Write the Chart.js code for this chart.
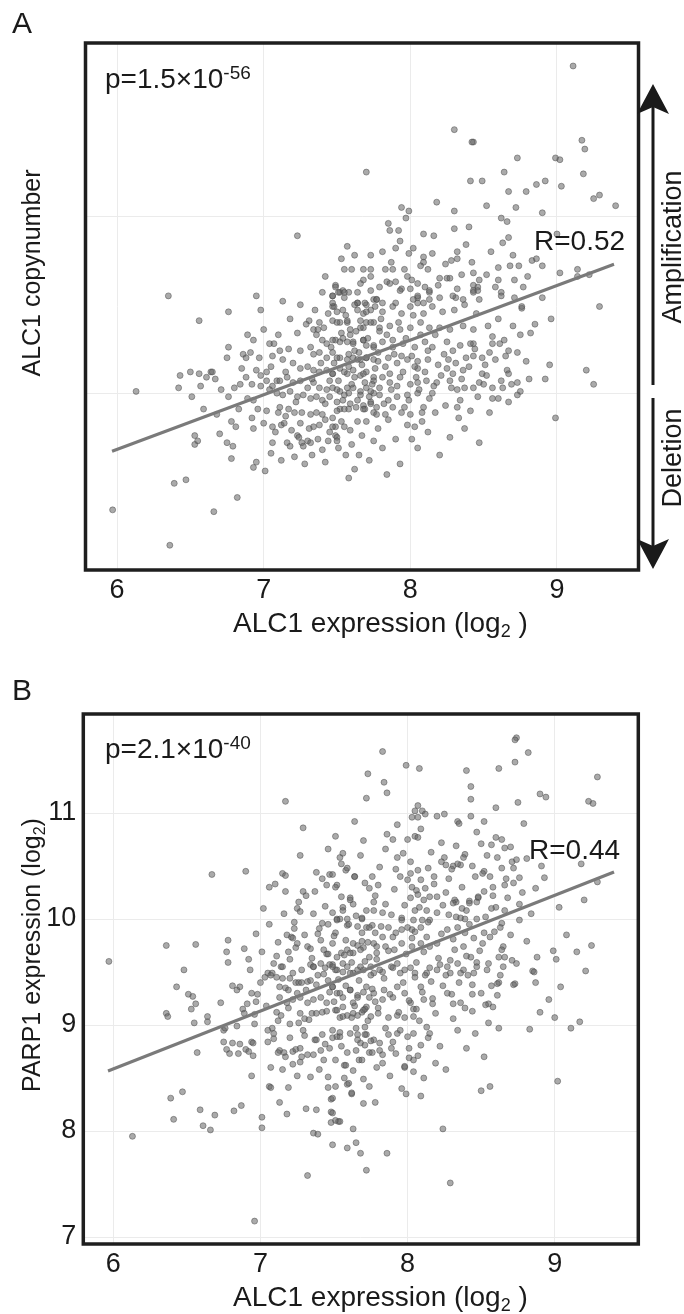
<!DOCTYPE html>
<html><head><meta charset="utf-8">
<script src="https://cdn.jsdelivr.net/npm/chart.js@4.4.0/dist/chart.umd.min.js"></script>
<style>
html,body{margin:0;padding:0;background:#fff;width:684px;height:1314px;overflow:hidden;}
canvas{position:absolute;left:0;}
#cA{top:0px} #cB{top:657px}
</style></head><body>
<canvas id="cA" width="684" height="657"></canvas>
<canvas id="cB" width="684" height="657"></canvas>
<script>
// ---------------- DATA ----------------
const xTicks = [6, 7, 8, 9];
const yTicksA = [-1, 0, 1];
const yTicksB = [7, 8, 9, 10, 11];
const panelA_label = "A";
const panelB_label = "B";
const pValueA = ["p=1.5×10", "-56"];
const pValueB = ["p=2.1×10", "-40"];
const rValueA = "R=0.52";
const rValueB = "R=0.44";
// regression fit lines (endpoints)
const fitA_x = [5.966, 9.389];
const fitA_y = [-0.328, 0.729];
const fitB_x = [5.964, 9.403];
const fitB_y = [8.566, 10.443];
// panel A: [ALC1 expression (log2), ALC1 copynumber]
const panelA_points = [
[7.70,1.25],[7.23,0.89],[7.57,0.83],[7.53,0.76],[7.73,0.78],[7.55,0.70],[7.60,0.70],[7.68,0.70],[7.73,0.70],[7.42,0.66],[7.68,0.64],[7.73,0.66],[7.49,0.61],[7.52,0.57],[7.58,0.57],[7.64,0.57],[6.35,0.55],[6.95,0.55],[7.13,0.52],[7.25,0.50],[7.47,0.55],[7.48,0.49],[7.55,0.54],[7.64,0.51],[7.70,0.50],[7.75,0.53],
[9.11,1.85],[8.30,1.49],[8.43,1.42],[8.42,1.42],[9.17,1.43],[9.19,1.38],[8.73,1.33],[8.99,1.33],[9.02,1.32],[8.64,1.25],[8.41,1.20],[8.49,1.20],[9.18,1.24],[8.67,1.14],[8.79,1.14],[8.86,1.18],[8.92,1.20],[9.03,1.17],[8.18,1.08],[7.94,1.05],[7.99,1.03],[7.97,0.99],[8.30,1.03],[8.52,1.06],[8.72,1.05],[8.90,1.02],[9.25,1.10],[9.29,1.12],[9.40,1.06],[7.85,0.96],[7.86,0.92],[7.92,0.92],[8.09,0.90],[8.16,0.89],[8.30,0.93],[8.40,0.94],[8.62,0.99],[8.66,0.97],[9.00,0.90],[8.63,0.85],[7.90,0.82],[7.99,0.79],[8.09,0.77],[8.09,0.74],[8.07,0.72],[8.32,0.80],[8.32,0.76],[8.28,0.75],[8.42,0.74],[8.43,0.68],[8.70,0.78],[8.68,0.72],[8.74,0.72],[8.83,0.75],[8.86,0.76],[8.90,0.72],[8.60,0.71],[8.60,0.64],[8.80,0.66],[8.71,0.64],[9.02,0.68],[9.14,0.70],[9.14,0.66],[9.22,0.67],[9.29,0.49],[8.90,0.54],[8.76,0.48],[8.71,0.54],[8.62,0.57],[8.62,0.55],[8.47,0.64],[8.46,0.60],[8.43,0.61],[8.43,0.58],[8.46,0.58],[8.47,0.53],
[7.83,0.70],[7.88,0.70],[7.84,0.63],[7.90,0.63],[7.94,0.59],[7.98,0.66],[7.54,0.58],[7.69,0.51],[7.77,0.53],[7.81,0.51],[7.90,0.51],[8.01,0.64],[8.05,0.62],[8.10,0.60],[8.13,0.57],[8.05,0.54],[8.09,0.51],[8.13,0.53],[8.02,0.53],[8.20,0.65],[8.25,0.65],[8.27,0.65],[8.32,0.59],[8.31,0.54],
[6.76,0.46],[6.98,0.47],[6.56,0.41],[6.89,0.33],[6.76,0.26],[6.75,0.20],[6.86,0.22],[6.88,0.20],[6.91,0.23],[7.04,0.28],[7.07,0.28],[7.11,0.24],[7.13,0.19],[7.17,0.25],[7.23,0.34],[6.64,0.12],[6.65,0.12],[6.61,0.09],[6.67,0.08],[6.56,0.11],[6.50,0.12],[6.43,0.10],[6.42,0.03],[6.57,0.04],[6.51,-0.02],[6.13,0.01],[6.85,0.14],[6.95,0.13],[6.98,0.10],[7.02,0.12],[7.05,0.15],[6.80,0.03],[6.84,0.05],[6.92,0.05],[6.98,0.04],[7.02,0.07],[7.06,0.04],[7.09,0.07],[6.76,-0.02],[6.89,-0.03],[6.93,-0.04],[6.59,-0.09],[6.96,-0.09],[7.02,-0.10],[7.10,-0.11],[6.78,-0.16],[6.81,-0.19],[6.92,-0.14],[6.93,-0.20],[6.70,-0.23],[6.75,-0.28],[6.79,-0.30],[6.53,-0.24],[6.55,-0.27],[6.53,-0.29],[6.78,-0.37],[6.95,-0.39],[6.93,-0.42],[7.01,-0.44],[7.06,-0.28],[7.06,-0.19],[7.12,-0.18],[7.14,-0.17],[7.16,-0.28],[7.18,-0.30],[7.23,-0.24],[7.24,-0.25],[7.26,-0.28],[7.27,-0.30],[7.30,-0.27],[7.32,-0.28],[7.40,-0.32],[7.44,-0.27],[7.51,-0.31],[7.60,-0.29],[7.65,-0.35],[7.75,-0.27],[6.39,-0.51],[6.47,-0.49],[6.82,-0.59],[5.97,-0.66],[6.66,-0.67],[6.36,-0.86],
[7.34,0.36],[7.37,0.36],[7.38,0.40],[7.47,0.41],[7.50,0.46],[7.47,0.55],[7.51,0.57],[7.47,0.49],[7.52,0.40],[7.57,0.40],[7.59,0.36],[7.66,0.41],[7.68,0.37],[7.70,0.40],[7.75,0.40],[7.64,0.47],[7.64,0.51],[7.68,0.45],[7.73,0.47],[7.77,0.53],
[7.40,0.30],[7.43,0.28],[7.49,0.30],[7.52,0.29],[7.57,0.29],[7.61,0.29],[7.68,0.30],[7.70,0.27],[7.75,0.26],[7.59,0.33],
[7.25,0.24],[7.32,0.26],[7.34,0.22],[7.38,0.23],[7.43,0.20],[7.47,0.23],[7.52,0.20],[7.57,0.19],[7.61,0.20],[7.66,0.19],[7.70,0.20],[7.75,0.19],
[7.20,0.17],[7.25,0.14],[7.30,0.15],[7.34,0.13],[7.38,0.12],[7.43,0.13],[7.47,0.11],[7.52,0.14],[7.57,0.11],[7.61,0.13],[7.66,0.10],[7.70,0.12],[7.75,0.09],
[7.11,0.07],[7.16,0.09],[7.20,0.06],[7.25,0.07],[7.30,0.03],[7.34,0.06],[7.38,0.03],[7.43,0.02],[7.47,0.03],[7.52,0.01],[7.57,0.03],[7.61,0.03],[7.66,0.01],[7.70,0.03],[7.75,0.00],
[7.04,0.02],[7.09,0.00],[7.13,-0.01],[7.18,0.01],[7.23,-0.02],[7.27,-0.01],[7.32,-0.03],[7.36,-0.02],[7.40,-0.04],[7.45,-0.02],[7.50,-0.05],[7.54,-0.04],[7.59,-0.06],[7.64,-0.04],[7.68,-0.07],[7.73,-0.05],[7.77,-0.08],
[7.11,-0.08],[7.17,-0.09],[7.21,-0.11],[7.26,-0.11],[7.32,-0.12],[7.36,-0.11],[7.42,-0.15],[7.47,-0.14],[7.52,-0.09],[7.55,-0.09],[7.64,-0.16],[7.69,-0.09],[7.75,-0.11],
[7.34,-0.19],[7.38,-0.18],[7.49,-0.19],[7.49,-0.24],[7.50,-0.25],[7.55,-0.19],
[8.96,0.42],[8.85,0.39],[8.82,0.34],[8.75,0.33],[8.76,0.49],[8.95,0.16],[8.92,0.08],[9.20,0.13],[9.25,0.05],[8.99,-0.14],[8.73,0.23],[8.73,0.06],[8.75,0.01],[8.73,-0.01],[8.67,0.24],[8.66,0.13],[8.67,0.11],[8.65,0.21],[8.61,0.28],[8.56,0.28],[8.54,0.23],[8.56,0.32],[8.62,0.07],[8.63,0.03],[8.56,0.03],[8.56,-0.03],[8.60,-0.03],[8.67,-0.05],[8.54,-0.11],[8.49,0.11],[8.52,0.10],[8.47,0.06],[8.50,0.05],[8.43,0.28],[8.41,0.28],[8.38,0.20],[8.43,0.21],[8.49,0.20],[8.33,-0.14],[8.37,-0.20],[8.32,-0.08],[8.34,-0.04],[8.24,-0.07],[8.08,-0.16],[8.03,-0.19],[8.01,-0.26],[8.00,-0.12],[7.94,-0.11],[7.83,-0.12],[7.77,-0.12],[7.47,-0.19],[7.50,-0.27],
[7.49,0.60],[7.55,0.57],[7.73,0.58],[7.79,0.60],[7.86,0.62],[7.93,0.58],[8.00,0.59],[8.05,0.55],[8.13,0.58],[8.20,0.54],[8.29,0.55],[8.36,0.53],[8.43,0.57],
[7.47,0.51],[7.54,0.47],[7.62,0.50],[7.70,0.46],[7.76,0.49],[7.81,0.46],[7.88,0.49],[7.94,0.45],[8.00,0.49],[8.05,0.51],[8.09,0.45],[8.15,0.49],[8.22,0.46],[8.30,0.47],[8.37,0.50],[8.45,0.45],
[7.50,0.40],[7.57,0.41],[7.66,0.37],[7.73,0.40],[7.79,0.37],[7.79,0.35],[7.86,0.38],[7.93,0.36],[8.00,0.37],[8.07,0.40],[8.13,0.37],[8.20,0.37],[8.27,0.36],[8.36,0.38],[8.43,0.36],
[7.47,0.30],[7.54,0.31],[7.61,0.28],[7.68,0.30],[7.75,0.27],[7.81,0.29],[7.88,0.26],[7.95,0.28],[8.03,0.26],[8.10,0.29],[8.15,0.26],[8.25,0.29],[8.29,0.24],
[7.50,0.20],[7.58,0.22],[7.64,0.19],[7.70,0.20],[7.78,0.18],[7.85,0.20],[7.91,0.17],[7.98,0.19],[8.05,0.18],[8.05,0.14],[8.12,0.19],[8.19,0.16],[8.26,0.19],[8.25,0.14],[8.29,0.11],[8.36,0.13],
[7.47,0.11],[7.55,0.12],[7.62,0.09],[7.68,0.11],[7.75,0.07],[7.81,0.09],[7.86,0.06],[7.93,0.09],[8.00,0.05],[8.05,0.06],[8.11,0.07],[8.18,0.06],[8.27,0.07],[8.32,0.02],[8.37,0.03],[8.43,0.03],
[7.50,0.02],[7.58,0.00],[7.66,-0.01],[7.73,0.01],[7.79,-0.01],[7.85,-0.04],[7.91,-0.02],[7.98,-0.01],[8.05,0.00],[8.13,-0.03],[8.15,0.00],
[7.50,-0.10],[7.58,-0.09],[7.68,-0.09],[7.73,-0.06],[7.88,-0.08],[7.96,-0.08],[8.09,-0.08],[8.08,-0.11],
[7.31,0.41],[7.36,0.33],[7.41,0.37],[7.44,0.45],[7.46,0.26],[7.53,0.34],[7.56,0.44],[7.62,0.24],[7.63,0.35],[7.67,0.16],[7.71,0.31],[7.74,0.05],[7.78,0.23],[7.80,0.42],[7.83,0.15],[7.84,0.33],[7.87,0.02],[7.89,0.22],[7.92,0.40],[7.95,0.12],[7.97,0.31],[8.01,0.21],[8.02,0.44],[8.04,0.09],[8.07,0.33],[7.33,0.08],[7.39,0.17],[7.42,-0.06],[7.45,0.07],[7.48,0.17],[7.51,0.07],[7.55,-0.01],[7.58,0.15],[7.60,0.05],[7.63,-0.08],[7.65,0.23],[7.69,0.06],[7.72,-0.02],[7.76,0.14],[7.79,0.03],[7.82,-0.06],[7.86,0.11],[7.88,0.30],[7.91,0.04],[7.94,0.21],[7.99,-0.04],[8.03,0.15],[8.06,0.02],[8.10,0.12],[8.12,0.24],[8.16,0.04],[8.17,0.33],[8.21,0.10],[8.23,0.22],[8.28,0.03],[8.31,0.17],[8.34,0.27],[8.35,0.08],[8.40,0.15],[8.44,0.25],[8.46,-0.02],[8.51,0.16],[8.53,0.38],[8.58,0.19],[8.60,0.42],[8.64,0.30],[8.69,0.05],[8.70,0.38],[8.79,0.18],[8.81,0.08],
[7.05,-0.34],[7.08,-0.22],[7.12,-0.38],[7.15,-0.13],[7.19,-0.21],[7.21,-0.36],[7.25,-0.17],[7.28,-0.40],[7.31,-0.20],[7.33,-0.35],[7.37,-0.26],[7.40,-0.12],[7.42,-0.39],[7.45,-0.22],[7.53,-0.16],[7.56,-0.35],[7.59,-0.21],[7.62,-0.43],[7.67,-0.24],[7.70,-0.16],[7.72,-0.38],[7.78,-0.20],[7.81,-0.31],[7.85,-0.15],[7.90,-0.26],[7.93,-0.40],[7.98,-0.18],[8.05,-0.31],[8.12,-0.22],[8.17,-0.11],[8.20,-0.35],[8.27,-0.25],[8.41,-0.10],[8.47,-0.28],[7.58,-0.48],[7.84,-0.46],
[7.81,0.80],[7.87,0.74],[7.93,0.86],[7.96,0.70],[8.02,0.82],[8.12,0.70],[8.15,0.79],[8.19,0.61],[8.24,0.73],[8.35,0.67],[8.38,0.84],[8.52,0.67],[8.55,0.80],[8.58,0.60],[8.67,0.88],[8.77,0.60],[7.62,0.78],[7.66,0.62],[7.40,0.57],[7.35,0.47],[7.29,0.39],[7.18,0.42],[7.10,0.33],[7.00,0.36],[6.93,0.30],[6.97,0.20],[7.06,0.21],[7.15,0.12],[7.22,-0.05],[6.88,0.09],[6.83,-0.09],[7.00,-0.17],[6.71,0.02],[6.68,-0.12]
];
// panel B: [ALC1 expression (log2), PARP1 expression (log2)]
const panelB_points = [
[7.73,11.37],[7.72,11.14],[7.17,11.11],[7.64,10.92],[7.29,10.86],[7.51,10.78],[7.70,10.74],[7.46,10.66],[7.56,10.62],[7.54,10.58],[7.27,10.60],[6.67,10.42],[6.90,10.45],
[7.15,10.43],[7.17,10.41],[7.38,10.44],[7.42,10.38],[7.47,10.42],[7.49,10.42],[7.58,10.46],[7.64,10.40],
[7.06,10.30],[7.10,10.33],[7.17,10.26],[7.29,10.26],[7.31,10.22],[7.37,10.26],[7.45,10.32],[7.52,10.32],[7.51,10.30],
[7.02,10.10],[7.25,10.10],[7.27,10.07],[7.23,9.97],[7.61,10.20],[7.63,10.14],[7.56,10.11],
[7.49,10.06],[7.52,10.00],[7.54,10.00],[7.59,10.00],[7.69,10.00],[7.72,10.08],[7.77,10.16],
[7.42,9.96],[7.46,9.95],[7.59,9.94],[7.66,9.93],[7.72,9.92],[7.76,9.94],
[5.97,9.60],[6.36,9.75],[6.56,9.76],[6.48,9.52],[6.78,9.80],[6.77,9.69],[6.78,9.59],[6.89,9.72],[6.92,9.62],
[7.11,9.65],[7.14,9.55],[7.21,9.83],[7.18,9.85],[7.22,9.82],[7.24,9.73],[7.19,9.69],[7.25,9.77],[7.05,9.49],[7.03,9.45],[7.08,9.49],
[7.32,9.74],[7.34,9.72],[7.39,9.86],[7.41,9.80],[7.45,9.67],[7.46,9.67],[7.49,9.77],[7.43,9.71],[7.52,9.64],[7.55,9.68],[7.59,9.71],[7.63,9.68],[7.66,9.75],[7.70,9.73],[7.77,9.77],[7.79,9.74],
[7.34,9.57],[7.41,9.58],[7.36,9.55],[7.49,9.57],[7.52,9.52],[7.59,9.55],[7.66,9.52],[7.75,9.55],
[8.74,11.71],[8.73,11.69],[8.82,11.57],[8.73,11.48],[7.83,11.58],[7.99,11.45],[8.08,11.42],[7.84,11.29],[7.86,11.19],[8.40,11.40],[8.62,11.42],[8.43,11.25],[8.43,11.13],[8.43,10.97],[8.60,11.05],[8.75,11.10],[8.90,11.18],[8.94,11.15],[9.29,11.34],[9.23,11.11],[9.26,11.09],[8.79,10.90],
[8.07,11.07],[8.05,11.02],[8.10,11.02],[8.12,10.99],[8.07,10.96],[8.03,10.96],[8.20,10.97],[8.25,10.99],[8.34,10.92],[8.35,10.90],
[7.93,10.89],[8.09,10.85],[8.05,10.78],[8.07,10.77],[7.86,10.80],[7.90,10.75],[8.23,10.72],[8.33,10.69],[8.50,10.71],[8.57,10.70],[8.60,10.77],[8.64,10.75],[8.66,10.67],
[8.39,10.61],[8.38,10.58],[8.36,10.51],[8.34,10.52],[8.31,10.50],[8.25,10.58],[8.23,10.54],[8.26,10.51],[8.30,10.47],
[8.71,10.54],[8.74,10.56],[8.81,10.57],[8.64,10.48],[8.61,10.58],[9.18,10.52],[9.29,10.35],
[9.20,10.18],[9.03,10.11],[9.08,9.85],[9.15,9.69],[9.25,9.75],[9.21,9.51],[8.99,9.70],[9.01,9.62],[8.76,9.99],
[8.93,10.39],[8.87,10.29],[8.76,10.39],[8.72,10.34],[8.67,10.38],[8.66,10.32],[8.72,10.48],
[8.52,10.45],[8.51,10.43],[8.56,10.40],[8.52,10.26],[8.48,10.20],[8.47,10.16],[8.48,10.21],[8.42,10.17],[8.42,10.15],[8.37,10.10],[8.40,10.08],[8.33,10.16],[8.32,10.18],[8.31,10.15],[8.36,10.01],[8.39,10.00],[8.47,10.00],[8.33,10.02],
[8.76,10.14],[8.66,10.08],[8.64,9.96],[8.63,9.92],[8.60,10.11],[8.57,10.10],[8.85,9.51],
[8.65,9.74],[8.66,9.64],[8.62,9.64],[8.64,9.71],
[7.59,10.48],[7.64,10.40],[7.71,10.34],[7.74,10.29],[7.76,10.40],[7.81,10.49],[7.92,10.47],[7.93,10.58],[7.97,10.62],[8.02,10.54],[8.02,10.43],[8.07,10.46],[8.14,10.48],[8.09,10.37],[8.03,10.30],[8.06,10.27],[8.12,10.29],[8.15,10.21],[8.07,10.23],[8.11,10.18],[8.02,10.20],[7.98,10.13],[8.05,10.08],[8.13,10.08],[8.20,10.21],[8.26,10.25],[8.24,10.13],[8.20,10.06],[8.15,9.99],[8.10,9.99],[8.04,9.99],[7.96,10.01],[7.89,10.04],[7.83,10.06],[7.77,10.08],[7.69,10.01],[7.61,10.18],[7.56,10.08],[7.52,9.99],
[7.51,9.87],[7.58,9.80],[7.63,9.77],[7.69,9.87],[7.73,9.78],[7.78,9.87],[7.83,9.83],[7.87,9.92],[7.92,9.87],[7.96,9.90],[8.00,9.92],[8.03,9.90],[8.05,9.88],[8.09,9.92],[8.13,9.83],[8.15,9.74],[8.20,9.77],[8.09,9.77],[8.03,9.74],[7.96,9.77],[7.91,9.71],[7.85,9.74],[7.79,9.68],[7.74,9.64],[7.68,9.71],[7.61,9.68],
[8.27,9.90],[8.34,9.92],[8.39,9.87],[8.45,9.82],[8.51,9.77],[8.56,9.83],[8.52,9.87],[8.38,9.74],[8.32,9.71],[8.43,9.64],[8.47,9.59],[8.34,9.58],[8.27,9.55],[8.20,9.52],[8.13,9.49],[8.05,9.49],[7.98,9.52],[7.90,9.54],[7.83,9.50],[7.77,9.49],[7.70,9.52],[7.63,9.49],[7.56,9.50],[8.38,9.52],[8.45,9.49],[8.54,9.52],[8.65,9.55],[8.71,9.61],
[6.43,9.36],[6.51,9.29],[6.54,9.27],[6.56,9.20],[6.53,9.15],[6.36,9.11],[6.37,9.08],[6.55,9.02],[6.64,9.08],[6.64,9.03],[6.73,9.21],[6.81,9.37],[6.84,9.33],[6.86,9.36],
[6.94,9.30],[6.98,9.29],[6.97,9.22],[6.91,9.20],[6.88,9.15],[6.89,9.11],[6.96,9.10],[6.96,9.01],[6.84,8.99],[6.75,8.95],[6.76,8.97],
[6.75,8.84],[6.81,8.83],[6.86,8.82],[6.77,8.77],[6.79,8.73],[6.85,8.73],[6.90,8.77],[6.92,8.75],[6.94,8.84],[6.95,8.83],[6.95,8.71],
[6.57,8.74],[6.94,8.52],[6.39,8.31],[6.47,8.37],[6.41,8.11],[6.59,8.20],[6.61,8.05],[6.66,8.01],[6.69,8.15],[6.82,8.19],[6.87,8.24],[6.13,7.95],[7.01,8.13],[7.01,8.03],[6.96,7.15],
[7.07,8.60],[7.06,8.42],[7.07,8.41],[7.13,8.27],[7.19,8.41],[7.18,8.16],
[7.07,9.47],[7.11,9.45],[7.15,9.55],[7.13,9.36],[7.17,9.35],[7.19,9.33],[7.20,9.44],[7.22,9.49],[7.24,9.40],[7.26,9.40],[7.28,9.40],[7.32,9.41],[7.34,9.42],[7.36,9.55],[7.39,9.47],[7.44,9.54],[7.47,9.57],[7.51,9.52],[7.46,9.42],[7.49,9.36],
[7.52,9.30],[7.56,9.26],[7.61,9.33],[7.66,9.28],[7.70,9.31],[7.74,9.26],[7.41,9.26],[7.36,9.24],[7.32,9.21],[7.27,9.26],[7.22,9.24],[7.18,9.21],[7.13,9.26],[7.45,9.21],[7.50,9.22],[7.56,9.17],[7.63,9.21],[7.72,9.17],[7.78,9.22],
[7.12,9.04],[7.08,8.97],[7.05,8.95],[7.09,8.92],[7.09,8.87],[7.14,9.09],[7.20,9.01],[7.26,9.02],[7.30,9.06],[7.27,9.11],[7.35,9.11],[7.38,9.11],[7.42,9.12],[7.45,9.13],[7.51,9.14],[7.54,9.07],[7.59,9.09],[7.62,9.07],[7.66,9.09],[7.69,9.12],[7.71,9.15],
[7.13,8.76],[7.12,8.74],[7.16,8.74],[7.17,8.70],[7.22,8.75],[7.24,8.77],[7.27,8.78],[7.28,8.70],[7.22,8.63],[7.27,8.65],[7.32,8.72],[7.36,8.72],[7.37,8.86],[7.38,8.86],[7.42,8.91],[7.41,8.76],[7.43,8.67],[7.47,8.78],[7.49,8.88],[7.52,8.89],[7.54,8.93],[7.61,8.92],[7.66,8.91],[7.72,8.91],[7.68,8.83],[7.71,8.81],[7.57,8.62],[7.67,8.67],[7.74,8.74],
[7.34,8.51],[7.46,8.51],[7.51,8.42],[7.59,8.44],[7.62,8.35],[7.74,8.42],[7.78,8.27],[7.70,8.26],[7.48,8.30],[7.38,8.20],[7.31,8.21],[7.48,8.18],[7.53,8.09],[7.48,8.08],[7.36,7.98],[7.39,7.97],[7.63,8.02],[7.49,7.87],[7.59,7.84],[7.65,7.89],[7.68,7.79],[7.72,7.63],[7.32,7.58],
[9.04,9.36],[8.96,9.24],[8.90,9.12],[9.00,9.07],[9.17,9.03],[9.11,8.97],[8.83,8.96],[9.02,8.47],[8.50,8.38],[8.56,8.42],[8.24,8.02],[8.29,7.51],
[8.86,9.50],[8.87,9.40],[8.73,9.39],[8.72,9.38],[8.62,9.40],[8.61,9.39],[8.57,9.37],[8.61,9.28],[8.58,9.17],[8.55,9.20],[8.62,8.97],[8.55,9.02],[8.53,9.19],[8.44,9.38],[8.44,9.29],[8.36,9.21],[8.39,9.16],[8.31,9.20],[8.30,9.29],[8.27,9.30],[8.31,9.06],[8.17,9.25],[8.17,9.20],[8.11,9.24],[8.19,8.64],[8.14,8.88],[8.15,8.92],[8.09,8.81],[8.04,8.56],[8.04,8.67],[7.98,8.60],[7.98,8.61],[8.01,8.69],[8.01,8.78],[8.04,8.92],[8.00,8.89],[7.96,8.40],[7.99,8.35],[8.09,8.33],[8.04,9.08],[8.04,9.15],[8.06,9.15],[8.08,9.04],
[7.49,9.55],[7.56,9.58],[7.61,9.49],[7.68,9.55],[7.75,9.47],[7.81,9.52],[7.89,9.55],[7.95,9.49],[8.02,9.54],[8.05,9.45],[8.09,9.36],[8.12,9.47],[8.15,9.54],[8.22,9.57],[8.26,9.47],[8.29,9.49],[8.36,9.49],[8.41,9.47],[8.47,9.55],
[7.49,9.36],[7.54,9.30],[7.61,9.33],[7.66,9.26],[7.72,9.36],[7.77,9.30],[7.83,9.24],[7.84,9.33],[7.90,9.26],[7.93,9.36],[7.98,9.30],[8.02,9.21],
[7.52,9.14],[7.56,9.08],[7.63,9.11],[7.70,9.14],[7.75,9.08],[7.80,9.11],[7.87,9.07],[7.93,9.09],[7.98,9.07],
[7.49,8.95],[7.54,8.89],[7.66,8.86],[7.71,8.98],[7.71,8.91],[7.77,8.86],[7.81,8.83],[7.87,8.91],[7.90,8.84],[7.93,8.92],[7.59,8.74],[7.65,8.76],[7.76,8.74],[7.81,8.76],[7.83,8.72],[7.89,8.78],[7.58,8.62],[7.69,8.67],[7.83,8.64],[7.60,8.45],[7.62,8.36],[7.49,8.31],[7.49,8.17],[7.51,8.10],[7.54,8.09],[7.86,7.79],
[7.31,9.33],[7.35,9.63],[7.38,9.38],[7.40,9.91],[7.43,9.48],[7.44,10.12],[7.47,9.31],[7.50,9.84],[7.53,9.43],[7.55,10.21],[7.57,9.66],[7.58,9.37],[7.60,9.95],[7.62,9.59],[7.64,9.18],[7.65,10.03],[7.67,9.42],[7.69,9.79],[7.71,9.60],[7.73,9.04],[7.74,9.92],[7.76,9.34],[7.78,10.22],[7.79,9.62],[7.80,9.16],[7.82,9.93],[7.84,9.44],[7.85,10.14],[7.87,9.70],[7.88,9.29],[7.90,9.83],[7.91,10.28],[7.93,9.58],[7.94,9.12],[7.96,9.99],[7.97,9.40],[7.99,9.67],[8.00,10.37],[8.01,9.23],[8.03,9.82],[8.06,9.59],[8.08,10.11],[8.10,9.31],[8.11,9.69],[8.14,9.97],[8.16,9.41],[8.18,10.33],[8.19,9.11],[8.21,9.63],[8.23,9.86],[8.24,9.37],[8.28,10.04],[8.29,9.61],[8.31,9.81],[8.35,9.40],[8.37,10.30],[8.40,9.65],[8.42,9.95],[8.44,9.13],[8.46,10.40],[8.49,9.70],[8.50,9.30],[8.53,10.02],[8.55,9.58],[8.58,10.30],[8.59,9.88],[8.63,9.47],[8.68,10.20],[8.70,9.85],[8.74,9.58],[8.78,10.25],[8.81,9.79],[8.84,10.05],[8.88,9.64],[8.91,10.50],
[6.93,9.52],[6.97,9.86],[7.00,9.40],[7.01,9.69],[7.04,9.18],[7.06,9.95],[7.09,9.58],[7.11,9.12],[7.12,9.78],[7.15,9.44],[7.16,10.05],[7.19,9.16],[7.20,9.62],[7.23,9.91],[7.25,9.30],[7.26,10.16],[7.28,9.52],[7.29,8.95],[7.30,9.85],[7.33,9.05],[7.36,10.05],[7.05,8.84],[7.15,8.58],[7.20,8.88],[7.25,8.52],[7.30,8.90],
[7.40,8.58],[7.44,8.82],[7.46,8.41],[7.51,8.67],[7.55,8.80],[7.57,8.50],[7.63,8.57],[7.65,8.97],[7.70,8.49],[7.75,8.85],[7.79,8.60],[7.85,8.97],[7.88,8.52],[7.92,8.73],[7.95,8.95],[8.07,8.71],[8.11,8.50],[8.13,8.98],[8.22,8.80],[8.26,8.58],[8.34,8.95],[8.40,8.78],[8.46,8.92],[8.52,8.70],
[7.55,10.52],[7.68,10.60],[7.80,10.32],[7.85,10.66],[7.95,10.40],[8.00,10.75],[8.16,10.63],[8.18,10.40],[8.28,10.38],[8.44,10.50],[8.47,10.82],[8.54,10.60],[8.58,10.22],[8.70,10.68],[8.52,10.92]
];

// ---------------- RENDER ----------------
const FONT = '"Liberation Sans", Arial, Helvetica, sans-serif';
const INK = '#1a1a1a';
Chart.defaults.font.family = FONT;
Chart.defaults.color = INK;

function rich(ctx, parts, x, y, align) {
  let total = 0;
  for (const p of parts) { ctx.font = p.size + 'px ' + FONT; p.w = ctx.measureText(p.t).width; total += p.w; }
  let cx = align === 'center' ? x - total / 2 : x;
  ctx.textAlign = 'left'; ctx.textBaseline = 'alphabetic';
  for (const p of parts) { ctx.font = p.size + 'px ' + FONT; ctx.fillText(p.t, cx, y + (p.dy || 0)); cx += p.w; }
}

function makePanel(id, cfg) {
  const annot = {
    id: 'annot' + id,
    afterDraw(chart) {
      const ctx = chart.ctx, a = chart.chartArea;
      ctx.save();
      ctx.strokeStyle = '#1e1e1e'; ctx.lineWidth = 3.5;
      ctx.strokeRect(a.left, a.top, a.right - a.left, a.bottom - a.top);
      ctx.fillStyle = INK;
      ctx.font = '30px ' + FONT; ctx.textAlign = 'left'; ctx.textBaseline = 'alphabetic';
      ctx.fillText(cfg.letter, 12, cfg.letterY);
      rich(ctx, [{t: cfg.p[0], size: 28}, {t: cfg.p[1], size: 19, dy: -9}], 105, cfg.pY, 'left');
      rich(ctx, [{t: cfg.r, size: 28}], cfg.rX, cfg.rY, 'left');
      rich(ctx, [{t: 'ALC1 expression (log', size: 28}, {t: '2', size: 18, dy: 5}, {t: ' )', size: 28}], 233, cfg.xTitleY, 'left');
      ctx.save();
      ctx.translate(40, cfg.yTitleCY); ctx.rotate(-Math.PI / 2);
      rich(ctx, cfg.yTitle, 0, 0, 'center');
      ctx.restore();
      if (cfg.arrows) {
        ctx.strokeStyle = INK; ctx.lineWidth = 3;
        ctx.beginPath(); ctx.moveTo(653, 105); ctx.lineTo(653, 385); ctx.stroke();
        ctx.beginPath(); ctx.moveTo(653, 398); ctx.lineTo(653, 548); ctx.stroke();
        ctx.beginPath(); ctx.moveTo(653, 84); ctx.lineTo(669, 114); ctx.lineTo(653, 107); ctx.lineTo(637, 114); ctx.closePath(); ctx.fill();
        ctx.beginPath(); ctx.moveTo(653, 569); ctx.lineTo(669, 539); ctx.lineTo(653, 546); ctx.lineTo(637, 539); ctx.closePath(); ctx.fill();
        ctx.save(); ctx.translate(681, 247); ctx.rotate(-Math.PI / 2);
        rich(ctx, [{t: 'Amplification', size: 27}], 0, 0, 'center'); ctx.restore();
        ctx.save(); ctx.translate(681, 458); ctx.rotate(-Math.PI / 2);
        rich(ctx, [{t: 'Deletion', size: 27}], 0, 0, 'center'); ctx.restore();
      }
      ctx.restore();
    }
  };
  const pts = cfg.points.map(p => ({x: p[0], y: p[1]}));
  const fit = cfg.fitX.map((v, i) => ({x: v, y: cfg.fitY[i]}));
  return new Chart(document.getElementById(id), {
    type: 'scatter',
    data: {
      datasets: [
        {type: 'line', data: fit, borderColor: 'rgb(122,122,122)', borderWidth: 3.2, pointRadius: 0, fill: false, order: 0},
        {data: pts, pointRadius: 3, pointBorderWidth: 0.8,
         pointBackgroundColor: 'rgba(100,100,100,0.55)', pointBorderColor: 'rgba(70,70,70,0.6)', order: 1}
      ]
    },
    options: {
      responsive: false, animation: false, devicePixelRatio: 1,
      layout: {padding: {top: cfg.top, right: 684 - cfg.right, left: 0, bottom: 0}},
      plugins: {legend: {display: false}, tooltip: {enabled: false}},
      scales: {
        x: {type: 'linear', min: cfg.xmin, max: cfg.xmax,
            afterFit: s => { s.height = 657 - cfg.bottom; },
            afterBuildTicks: s => { s.ticks = xTicks.map(v => ({value: v})); },
            grid: {color: '#ebebeb', lineWidth: 1, drawTicks: false},
            border: {display: false},
            ticks: {padding: 4, font: {size: 27}, color: INK}},
        y: {type: 'linear', min: cfg.ymin, max: cfg.ymax,
            afterFit: s => { s.width = cfg.left; },
            afterBuildTicks: s => { s.ticks = cfg.yTicks.map(v => ({value: v})); },
            grid: {color: '#ebebeb', lineWidth: 1, drawTicks: false},
            border: {display: false},
            ticks: {display: cfg.yLabels, padding: 7, font: {size: 27}, color: INK}}
      }
    },
    plugins: [annot]
  });
}

makePanel('cA', {
  letter: panelA_label, letterY: 33, p: pValueA, pY: 88, r: rValueA, rX: 534, rY: 250,
  xTitleY: 632, yTitleCY: 273,
  yTitle: [{t: 'ALC1 copynumber', size: 25}],
  arrows: true,
  points: panelA_points, fitX: fitA_x, fitY: fitA_y,
  top: 43, bottom: 570, left: 85.5, right: 638.5,
  xmin: 5.785, xmax: 9.556, ymin: -1, ymax: 1.98, yTicks: yTicksA, yLabels: false
});
makePanel('cB', {
  letter: panelB_label, letterY: 43, p: pValueB, pY: 101, r: rValueB, rX: 529, rY: 202,
  xTitleY: 649, yTitleCY: 298,
  yTitle: [{t: 'PARP1 expression (log', size: 25}, {t: '2', size: 16, dy: 5}, {t: ')', size: 25}],
  arrows: false,
  points: panelB_points, fitX: fitB_x, fitY: fitB_y,
  top: 57, bottom: 587, left: 83.3, right: 638.3,
  xmin: 5.796, xmax: 9.568, ymin: 6.934, ymax: 11.934, yTicks: yTicksB, yLabels: true
});
</script>
</body></html>
